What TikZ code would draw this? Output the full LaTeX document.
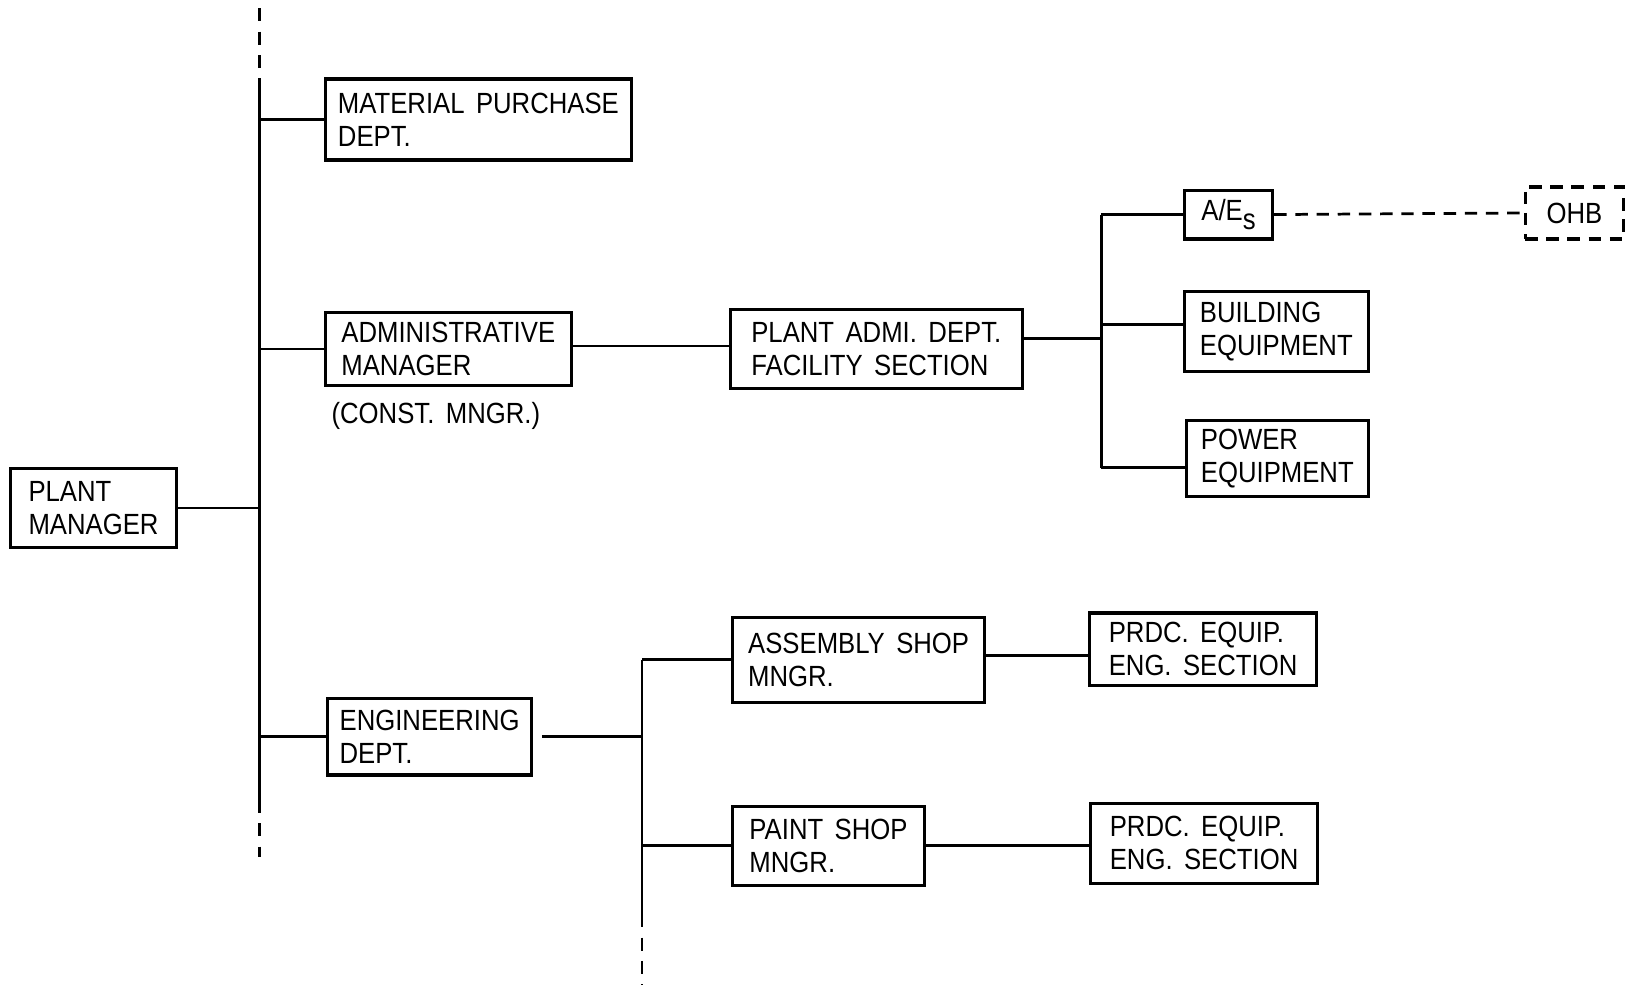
\documentclass[tikz,border=0pt]{standalone}
\usepackage{fontspec}
\setmainfont[FakeStretch=0.88, WordSpace=1.6]{Liberation Sans}
\usetikzlibrary{positioning,calc}
\tikzset{
  every node/.style={font=\fontsize{8}{9.1}\selectfont},
  box/.style={draw=black, line width=0.85pt, inner sep=0.5mm, align=left},
  dbox/.style={box, dash pattern=on 3.4pt off 2.4pt},
  conn/.style={draw=black, line width=0.75pt},
  dconn/.style={conn, dash pattern=on 3.4pt off 2.4pt},
  busd/.style={conn, dash pattern=on 3.6pt off 2.8pt},
  lbl/.style={inner sep=0pt, align=left},
}
\begin{document}
\begin{tikzpicture}[x=0.1mm, y=-0.1mm]
\useasboundingbox (0,0) rectangle (1568,948);

% --- top level ---
\node[box, minimum width=16mm, minimum height=7.6mm] (pm) at (90,489) {PLANT\\MANAGER};

% --- second level ---
\node[box, minimum width=29.5mm, minimum height=7.8mm] (matl) at (460.5,115) {MATERIAL PURCHASE\\DEPT.};
\node[box, minimum width=23.7mm, minimum height=7mm] (adm) at (431.5,336) {ADMINISTRATIVE\\MANAGER};
\node[lbl, anchor=north west] (cmgr) at ([xshift=0.7mm, yshift=-1.4mm]adm.south west) {(CONST. MNGR.)};
\node[box, minimum width=19.7mm, minimum height=7.4mm] (eng) at (413.5,709) {ENGINEERING\\DEPT.};

% --- facility branch ---
\node[box, minimum width=28.1mm, minimum height=7.6mm] (fac) at (843.5,336) {PLANT ADMI. DEPT.\\FACILITY SECTION};
\node[box, minimum width=8.5mm, minimum height=4.7mm] (aes) at (1182.5,206.5) {A/E\raisebox{-0.6ex}{s}};
\node[dbox, minimum width=9.5mm, minimum height=5mm] (ohb) at (1515.5,205) {OHB};
\node[box, minimum width=17.7mm, minimum height=7.7mm] (bldg) at (1228.5,319.5) {BUILDING\\EQUIPMENT};
\node[box, minimum width=17.5mm, minimum height=7.3mm] (power) at (1229.5,441.5) {POWER\\EQUIPMENT};

% --- engineering branch ---
\node[box, minimum width=24.3mm, minimum height=8.2mm] (asm) at (826.5,635) {ASSEMBLY SHOP\\MNGR.};
\node[box, minimum width=18.5mm, minimum height=7.6mm] (paint) at (797.5,814) {PAINT SHOP\\MNGR.};
\node[box, minimum width=21.8mm, minimum height=7mm] (prdca) at (1158,625) {PRDC. EQUIP.\\ENG. SECTION};
\node[box, minimum width=21.8mm, minimum height=7.7mm] (prdcb) at (1159,811.5) {PRDC. EQUIP.\\ENG. SECTION};

% --- bus lines ---
\coordinate (mtop) at (250,8);
\coordinate (ma) at (250,85);
\coordinate (mb) at (250,770);
\coordinate (mend) at (250,825);
\coordinate (fbus) at (1060,207);
\coordinate (ea) at (618,880);
\coordinate (eend) at (618,948);

\draw[busd] (mtop) -- (ma);
\draw[conn] (ma) -- (mb);
\draw[busd] (mb) -- (mend);

\draw[conn] (aes.west -| fbus) -- ([yshift=-0.85mm]power.west -| fbus);

\draw[conn] (asm.west -| ea) -- (ea);
\draw[busd] (ea) -- (eend);

% --- connectors: main bus ---
\draw[conn] (pm.east) -- (pm.east -| ma);
\draw[conn] (matl.west -| ma) -- (matl.west);
\draw[conn] (adm.west -| ma) -- (adm.west);
\draw[conn] (eng.west -| ma) -- (eng.west);

% --- connectors: facility branch ---
\draw[conn] ([yshift=0.3mm]adm.east) -- ([yshift=0.3mm]fac.west);
\draw[conn] ([yshift=1mm]fac.east) -- ([yshift=1mm]fac.east -| fbus);
\draw[conn] (aes.west -| fbus) -- (aes.west);
\draw[conn] ([yshift=0.75mm]bldg.west -| fbus) -- ([yshift=0.75mm]bldg.west);
\draw[conn] ([yshift=-0.85mm]power.west -| fbus) -- ([yshift=-0.85mm]power.west);
\draw[dconn] (aes.east) -- (ohb.west);

% --- connectors: engineering branch ---
\draw[conn] ([xshift=0.8mm]eng.east) -- (eng.east -| ea);
\draw[conn] (asm.west -| ea) -- (asm.west);
\draw[conn] (paint.west -| ea) -- (paint.west);
\draw[conn] ([yshift=0.4mm]asm.east) -- ([yshift=0.4mm]asm.east -| prdca.west);
\draw[conn] (paint.east) -- (paint.east -| prdcb.west);

\end{tikzpicture}
\end{document}
